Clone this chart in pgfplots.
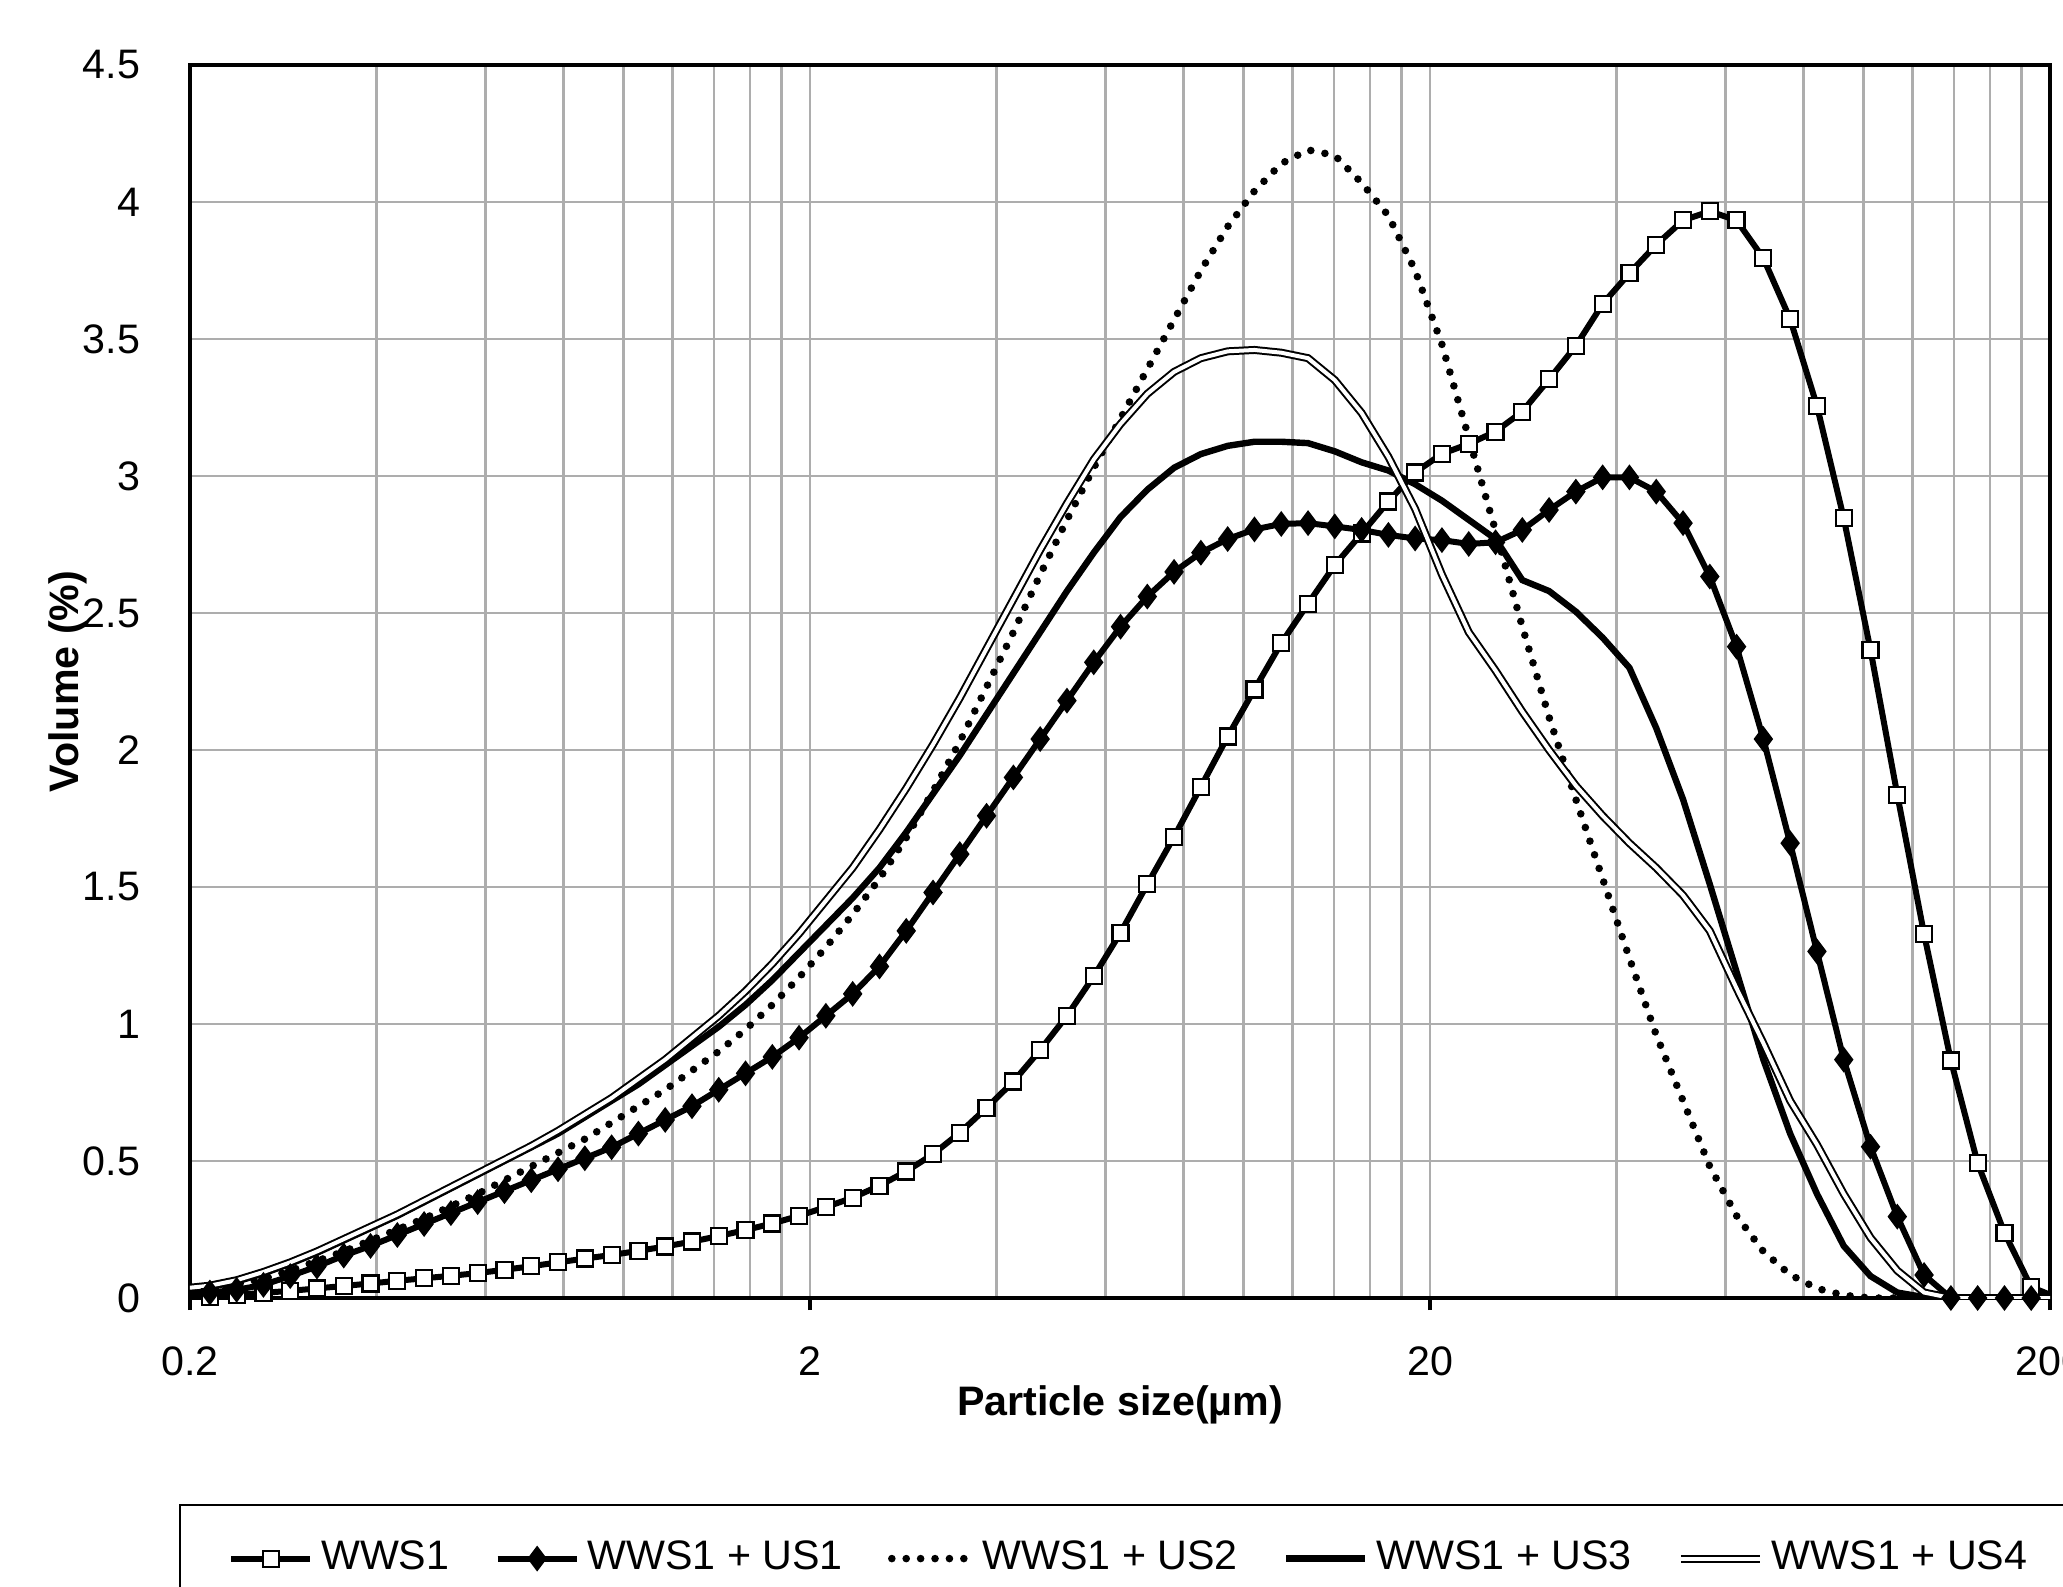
\documentclass[border=0pt]{standalone}
\usepackage{pgfplots}
\pgfplotsset{compat=1.18}
\usepackage{pgfplotstable}
\usepackage{fontspec}
\setmainfont{Liberation Sans}

% x  WWS1  WWS1+US1  WWS1+US2  WWS1+US3  WWS1+US4
\pgfplotstableread{
x a b c d e
0.19491 0.003 0.015 0.025 0.030 0.035
0.21529 0.005 0.020 0.035 0.040 0.045
0.23781 0.011 0.030 0.050 0.060 0.065
0.26268 0.019 0.048 0.070 0.090 0.095
0.29015 0.026 0.080 0.100 0.125 0.130
0.32050 0.035 0.115 0.135 0.165 0.170
0.35402 0.044 0.155 0.170 0.210 0.215
0.39105 0.053 0.190 0.210 0.255 0.260
0.43195 0.063 0.230 0.250 0.300 0.305
0.47713 0.072 0.270 0.290 0.350 0.355
0.52703 0.081 0.310 0.335 0.400 0.405
0.58215 0.091 0.350 0.380 0.450 0.455
0.64304 0.103 0.390 0.430 0.500 0.505
0.71029 0.116 0.430 0.480 0.550 0.555
0.78458 0.130 0.470 0.530 0.600 0.610
0.86664 0.144 0.510 0.580 0.660 0.670
0.95728 0.157 0.550 0.640 0.720 0.730
1.0574 0.172 0.600 0.700 0.780 0.800
1.1680 0.188 0.650 0.760 0.850 0.870
1.2902 0.206 0.700 0.830 0.920 0.950
1.4251 0.226 0.760 0.900 0.990 1.030
1.5741 0.248 0.820 0.980 1.070 1.120
1.7388 0.272 0.880 1.070 1.160 1.220
1.9206 0.300 0.950 1.170 1.260 1.330
2.1215 0.332 1.030 1.280 1.360 1.450
2.3434 0.366 1.110 1.400 1.460 1.570
2.5885 0.410 1.210 1.530 1.570 1.710
2.8592 0.462 1.340 1.680 1.700 1.860
3.1583 0.525 1.480 1.850 1.840 2.020
3.4886 0.603 1.620 2.030 1.980 2.190
3.8535 0.694 1.760 2.230 2.130 2.370
4.2565 0.790 1.900 2.430 2.280 2.550
4.7017 0.905 2.040 2.640 2.430 2.730
5.1935 1.030 2.180 2.840 2.580 2.900
5.7367 1.174 2.320 3.030 2.720 3.060
6.3367 1.333 2.450 3.210 2.850 3.190
6.9994 1.510 2.560 3.390 2.950 3.300
7.7315 1.683 2.650 3.570 3.030 3.380
8.5401 1.866 2.720 3.750 3.080 3.430
9.4333 2.049 2.770 3.910 3.110 3.455
10.420 2.221 2.805 4.040 3.125 3.460
11.510 2.390 2.825 4.140 3.125 3.450
12.714 2.534 2.828 4.190 3.120 3.430
14.043 2.675 2.816 4.170 3.090 3.350
15.512 2.790 2.803 4.070 3.050 3.230
17.135 2.907 2.785 3.950 3.020 3.070
18.927 3.013 2.772 3.750 2.970 2.880
20.906 3.081 2.766 3.480 2.910 2.640
23.093 3.117 2.752 3.140 2.840 2.430
25.508 3.162 2.758 2.800 2.770 2.290
28.176 3.235 2.803 2.450 2.620 2.140
31.123 3.353 2.876 2.120 2.580 2.000
34.378 3.475 2.943 1.820 2.505 1.870
37.974 3.628 2.995 1.530 2.410 1.760
41.945 3.740 2.995 1.240 2.300 1.660
46.332 3.844 2.943 0.960 2.080 1.570
51.178 3.933 2.828 0.720 1.820 1.470
56.531 3.966 2.633 0.480 1.510 1.340
62.443 3.933 2.377 0.300 1.190 1.130
68.974 3.795 2.040 0.170 0.870 0.930
76.188 3.573 1.660 0.085 0.600 0.720
84.157 3.256 1.265 0.035 0.380 0.560
92.959 2.846 0.870 0.010 0.190 0.380
102.68 2.365 0.552 0.000 0.080 0.220
113.42 1.837 0.297 0.000 0.020 0.100
125.28 1.328 0.084 0.000 0.003 0.020
138.39 0.867 0.000 0.000 0.000 0.000
152.86 0.492 0.000 0.000 0.000 0.000
168.85 0.238 0.000 0.000 0.000 0.000
186.51 0.040 0.000 0.000 0.000 0.000
206.02 0.000 0.000 0.000 0.000 0.000
}\psdtable

\newcommand{\chartfont}{\fontsize{10.3}{12}\selectfont}

\begin{document}
\begin{tikzpicture}
\begin{axis}[
  at={(47.5pt,72pt)}, anchor=south west,
  scale only axis, width=465pt, height=308.25pt,
  xmode=log, log basis x=10,
  xmin=0.2, xmax=200, ymin=0, ymax=4.5,
  xtick={0.2,2,20,200}, xticklabels={0.2,2,20,200},
  minor xtick={0.4,0.6,0.8,1,1.2,1.4,1.6,1.8,4,6,8,10,12,14,16,18,40,60,80,100,120,140,160,180},
  ytick={0,0.5,1,1.5,2,2.5,3,3.5,4,4.5},
  yticklabels={0,0.5,1,1.5,2,2.5,3,3.5,4,4.5},
  xmajorgrids, xminorgrids, ymajorgrids,
  major grid style={black!32, line width=0.7pt},
  minor grid style={black!32, line width=0.7pt},
  axis line style={black, line width=0.8pt},
  tick align=outside,
  xtick pos=left,
  major tick length=3pt, minor tick length=0pt,
  xtick style={black, line width=0.8pt},
  ytick style={draw=none},
  tick label style={font=\chartfont, text=black},
  xticklabel style={anchor=center, yshift=-12.75pt},
  yticklabel style={anchor=east, inner sep=0pt, xshift=-9.25pt},
  xlabel={Particle size(µm)}, ylabel={Volume (\%)},
  xlabel style={font=\bfseries\chartfont, at={(axis description cs:0.5,-0.0868)}, anchor=center},
  ylabel style={font=\bfseries\chartfont, at={(axis description cs:-0.0656,0.5)}, anchor=center},
  legend columns=5,
  legend cell align=left,
  legend style={at={(axis description cs:0,0)}, anchor=north west,
    xshift=-2.75pt, yshift=-51.5pt, draw=black, line width=0.6pt,
    font=\chartfont, inner xsep=12pt, inner ysep=7pt,
    /tikz/every even column/.append style={column sep=9.3pt}},
  legend image code/.code={\draw[mark repeat=2,mark phase=2,#1] plot coordinates {(0pt,0pt) (9.9pt,0pt) (19.75pt,0pt)};},
]
\addplot[black, line width=1.5pt, mark=square*, mark size=2pt,
  mark options={fill=white, draw=black, line width=0.55pt, solid}]
  table[x=x, y=a] {\psdtable};
\addlegendentry{WWS1}
\addplot[black, line width=1.5pt, mark=diamond*, mark size=2pt,
  mark options={fill=black, draw=black, solid}]
  table[x=x, y=b] {\psdtable};
\addlegendentry{WWS1 + US1}
\addplot[black, line width=1.9pt, line cap=round, dash pattern=on 0pt off 3.6pt]
  table[x=x, y=c] {\psdtable};
\addlegendentry{WWS1 + US2}
\addplot[black, line width=1.6pt]
  table[x=x, y=d] {\psdtable};
\addlegendentry{WWS1 + US3}
\addplot[black, line width=0.5pt, double=white, double distance=1.0pt]
  table[x=x, y=e] {\psdtable};
\addlegendentry{WWS1 + US4}
\end{axis}
\pgfresetboundingbox
\useasboundingbox (0,0) rectangle (515.75pt,396.5pt);
\end{tikzpicture}
\end{document}
